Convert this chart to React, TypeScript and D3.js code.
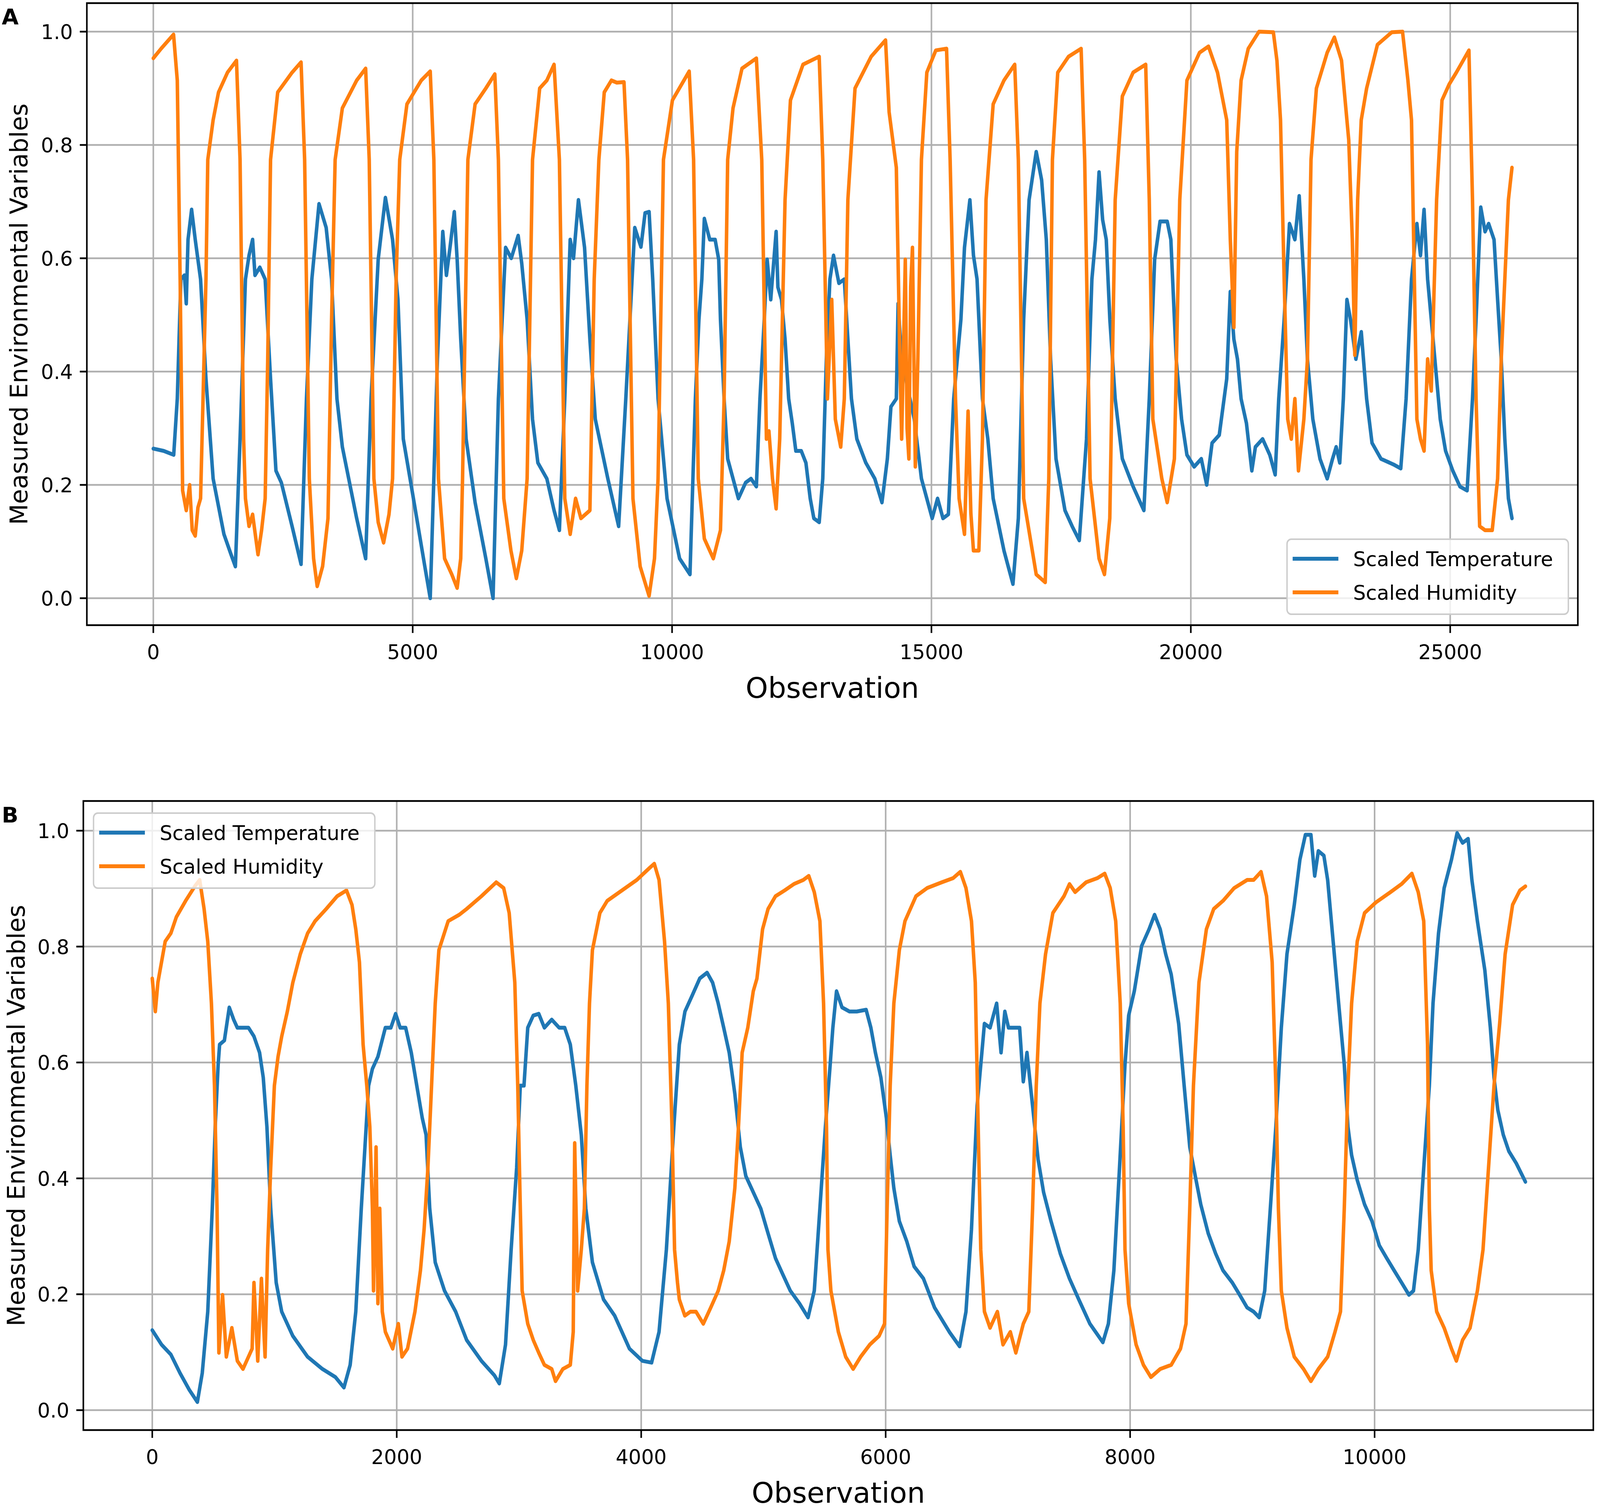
import { useEffect, useState } from 'react';
import * as d3 from 'd3';

type Pt = [number, number];

// ---- panel A data: [observation, scaled value] ----
const tempA: Pt[] = [
  [0,0.264],[200,0.26],[393,0.253],[462,0.352],[531,0.563],[600,0.57],[635,0.52],[669,0.633],[738,0.686],[808,0.633],[911,0.563],[1015,0.387],[1153,0.211],[1361,0.113],[1499,0.077],[1582,0.056],
  [1672,0.281],[1776,0.563],[1845,0.605],[1914,0.633],[1960,0.57],[2053,0.584],[2156,0.563],[2260,0.387],[2364,0.225],[2468,0.204],[2675,0.127],[2848,0.06],
  [2952,0.352],[3056,0.563],[3194,0.696],[3332,0.654],[3436,0.563],[3540,0.352],[3644,0.267],[3920,0.141],[4093,0.07],
  [4197,0.352],[4335,0.598],[4474,0.707],[4612,0.633],[4716,0.527],[4819,0.281],[5027,0.169],[5234,0.056],[5338,0.0],
  [5477,0.422],[5580,0.647],[5650,0.57],[5719,0.619],[5802,0.682],[5857,0.598],[5926,0.457],[6030,0.281],[6203,0.169],[6410,0.07],[6549,0.0],
  [6652,0.352],[6791,0.619],[6900,0.6],[7033,0.64],[7102,0.591],[7206,0.492],[7310,0.316],[7413,0.239],[7586,0.211],[7725,0.155],[7828,0.12],
  [7932,0.352],[8036,0.633],[8100,0.6],[8195,0.703],[8313,0.619],[8416,0.457],[8520,0.316],[8762,0.211],[8970,0.127],
  [9108,0.352],[9281,0.654],[9400,0.62],[9480,0.68],[9557,0.682],[9627,0.563],[9730,0.352],[9903,0.176],[10145,0.07],[10345,0.042],
  [10449,0.352],[10518,0.492],[10574,0.563],[10622,0.67],[10726,0.633],[10830,0.633],[10899,0.598],[10933,0.492],[11003,0.352],[11072,0.246],[11175,0.211],[11279,0.176],[11418,0.204],[11521,0.211],[11625,0.197],
  [11694,0.352],[11777,0.492],[11833,0.598],[11902,0.527],[12006,0.647],[12040,0.549],[12109,0.527],[12178,0.457],[12248,0.352],[12317,0.309],[12386,0.26],[12490,0.26],[12580,0.239],[12663,0.176],[12733,0.141],[12836,0.134],
  [12905,0.211],[12974,0.422],[13043,0.563],[13112,0.605],[13216,0.556],[13320,0.563],[13389,0.457],[13458,0.352],[13562,0.281],[13735,0.239],[13908,0.211],[14046,0.169],
  [14150,0.246],[14219,0.338],[14323,0.352],[14357,0.52],[14426,0.422],[14669,0.316],[14807,0.211],[15014,0.141],[15118,0.176],[15222,0.141],[15326,0.148],
  [15429,0.352],[15568,0.492],[15637,0.619],[15741,0.703],[15810,0.605],[15879,0.563],[15983,0.352],[16087,0.281],[16190,0.176],[16398,0.084],[16571,0.025],
  [16675,0.141],[16778,0.492],[16882,0.703],[17020,0.788],[17124,0.738],[17214,0.633],[17297,0.422],[17401,0.246],[17574,0.155],[17712,0.127],[17850,0.102],
  [17989,0.281],[18093,0.563],[18162,0.633],[18231,0.752],[18300,0.668],[18370,0.633],[18439,0.492],[18542,0.352],[18680,0.246],[18888,0.197],[19026,0.169],[19095,0.155],
  [19199,0.352],[19303,0.598],[19407,0.665],[19545,0.665],[19615,0.633],[19718,0.422],[19822,0.316],[19925,0.253],[20064,0.232],[20202,0.246],[20306,0.2],[20410,0.274],[20548,0.288],
  [20692,0.387],[20761,0.541],[20830,0.457],[20899,0.422],[20969,0.352],[21072,0.309],[21176,0.225],[21245,0.267],[21384,0.281],[21522,0.253],[21626,0.218],
  [21695,0.352],[21799,0.492],[21902,0.661],[22006,0.633],[22089,0.71],[22179,0.563],[22248,0.422],[22352,0.316],[22490,0.246],[22629,0.211],[22732,0.246],[22802,0.267],[22871,0.239],
  [22940,0.352],[23009,0.527],[23078,0.492],[23182,0.422],[23286,0.47],[23389,0.352],[23493,0.274],[23666,0.246],[23908,0.236],[24047,0.229],
  [24150,0.352],[24254,0.563],[24358,0.661],[24427,0.605],[24496,0.686],[24565,0.563],[24635,0.492],[24704,0.422],[24808,0.316],[24911,0.26],[25050,0.225],[25188,0.197],[25326,0.19],
  [25430,0.352],[25499,0.492],[25589,0.69],[25672,0.647],[25741,0.661],[25845,0.633],[25914,0.527],[25984,0.422],[26053,0.281],[26122,0.176],[26191,0.141],
];

const humA: Pt[] = [
  [0,0.953],[150,0.97],[390,0.995],[462,0.914],[517,0.562],[565,0.19],[635,0.155],[700,0.2],[750,0.12],[808,0.11],[860,0.16],[911,0.176],
  [1015,0.563],[1050,0.774],[1153,0.844],[1257,0.893],[1430,0.928],[1603,0.949],[1672,0.774],[1741,0.281],[1776,0.176],[1845,0.127],[1914,0.148],[2018,0.077],[2087,0.12],[2156,0.176],
  [2205,0.42],[2260,0.774],[2398,0.893],[2675,0.928],[2848,0.946],[2917,0.774],[3007,0.211],[3090,0.07],[3159,0.021],[3263,0.056],[3367,0.141],
  [3436,0.49],[3505,0.774],[3644,0.865],[3920,0.914],[4093,0.935],[4162,0.774],[4252,0.211],[4335,0.134],[4439,0.098],[4543,0.148],[4612,0.211],
  [4681,0.563],[4750,0.774],[4889,0.872],[5165,0.914],[5338,0.93],[5408,0.774],[5497,0.211],[5615,0.07],[5753,0.042],[5857,0.018],[5926,0.07],[5961,0.211],
  [6064,0.774],[6203,0.872],[6410,0.9],[6583,0.925],[6652,0.774],[6756,0.176],[6894,0.084],[6998,0.035],[7102,0.084],[7206,0.211],
  [7310,0.774],[7448,0.9],[7586,0.914],[7725,0.942],[7828,0.774],[7932,0.176],[8036,0.113],[8140,0.176],[8243,0.141],[8416,0.155],
  [8499,0.563],[8589,0.774],[8693,0.893],[8831,0.914],[8935,0.91],[9073,0.911],[9142,0.774],[9246,0.176],[9385,0.056],[9557,0.004],[9661,0.07],[9730,0.211],
  [9834,0.774],[10007,0.879],[10330,0.93],[10415,0.774],[10505,0.211],[10622,0.105],[10795,0.07],[10933,0.12],[11003,0.352],
  [11072,0.774],[11175,0.865],[11348,0.935],[11625,0.953],[11729,0.774],[11819,0.281],[11867,0.295],[11936,0.211],[12006,0.158],[12075,0.281],
  [12178,0.703],[12282,0.879],[12524,0.942],[12836,0.956],[12905,0.774],[12995,0.352],[13078,0.527],[13147,0.316],[13251,0.267],[13320,0.352],
  [13389,0.703],[13527,0.9],[13838,0.956],[14115,0.985],[14184,0.858],[14323,0.76],[14392,0.422],[14426,0.281],[14496,0.598],[14530,0.3],[14565,0.246],[14600,0.55],[14634,0.619],[14689,0.232],[14738,0.422],
  [14807,0.774],[14911,0.928],[15084,0.967],[15291,0.97],[15360,0.774],[15464,0.352],[15533,0.176],[15637,0.113],[15706,0.33],[15760,0.15],[15810,0.084],[15914,0.084],[15983,0.281],
  [16052,0.703],[16190,0.872],[16398,0.914],[16605,0.942],[16675,0.774],[16778,0.176],[17020,0.042],[17193,0.028],[17262,0.211],
  [17332,0.774],[17435,0.928],[17643,0.956],[17885,0.97],[17954,0.774],[18058,0.211],[18231,0.07],[18335,0.042],[18438,0.141],
  [18542,0.703],[18680,0.886],[18888,0.928],[19130,0.942],[19199,0.703],[19268,0.316],[19441,0.211],[19545,0.169],[19683,0.246],
  [19787,0.703],[19925,0.914],[20168,0.963],[20340,0.974],[20514,0.928],[20692,0.844],[20761,0.633],[20830,0.478],[20885,0.788],
  [20969,0.914],[21107,0.97],[21314,1.0],[21591,0.999],[21660,0.949],[21729,0.844],[21799,0.563],[21868,0.316],[21937,0.281],[22006,0.352],[22075,0.225],[22179,0.316],[22248,0.422],
  [22317,0.774],[22421,0.9],[22629,0.963],[22767,0.99],[22905,0.949],[23009,0.844],[23044,0.809],[23113,0.633],[23161,0.429],[23216,0.703],[23285,0.844],
  [23389,0.9],[23597,0.977],[23874,0.999],[24081,1.0],[24185,0.914],[24254,0.844],[24323,0.492],[24358,0.316],[24427,0.281],[24496,0.26],[24565,0.422],[24635,0.366],
  [24738,0.703],[24842,0.879],[24980,0.907],[25119,0.928],[25361,0.967],[25430,0.703],[25499,0.352],[25568,0.127],[25672,0.12],[25810,0.12],[25914,0.211],
  [25984,0.422],[26053,0.563],[26122,0.703],[26191,0.76],
];

// ---- panel B data ----
const tempB: Pt[] = [
  [0,0.138],[76,0.113],[152,0.096],[227,0.064],[303,0.035],[369,0.014],[409,0.064],[454,0.17],[491,0.348],[515,0.489],[539,0.596],[551,0.631],[590,0.638],[630,0.695],[666,0.674],[696,0.66],[742,0.66],[787,0.66],[832,0.645],[878,0.617],[908,0.574],[938,0.489],[969,0.348],[1014,0.22],[1059,0.17],[1150,0.128],[1271,0.092],[1392,0.071],[1498,0.057],[1568,0.039],
  [1619,0.078],[1665,0.17],[1710,0.348],[1740,0.454],[1770,0.56],[1801,0.589],[1846,0.61],[1907,0.66],[1952,0.66],[1991,0.684],[2028,0.66],[2073,0.66],[2119,0.617],[2164,0.56],[2209,0.504],[2240,0.475],[2270,0.348],[2315,0.255],[2391,0.206],[2482,0.17],[2572,0.121],[2693,0.085],[2799,0.06],[2839,0.046],
  [2890,0.113],[2936,0.277],[2981,0.418],[3011,0.56],[3041,0.56],[3072,0.66],[3117,0.681],[3162,0.684],[3208,0.66],[3268,0.674],[3329,0.66],[3374,0.66],[3420,0.631],[3465,0.56],[3510,0.475],[3547,0.348],[3601,0.255],[3692,0.191],[3783,0.163],[3904,0.106],[4010,0.085],[4085,0.082],
  [4146,0.135],[4206,0.277],[4267,0.489],[4312,0.631],[4358,0.688],[4418,0.716],[4479,0.745],[4539,0.755],[4584,0.738],[4630,0.702],[4675,0.66],[4720,0.617],[4766,0.546],[4811,0.454],[4856,0.404],[4917,0.376],[4978,0.348],[5038,0.305],[5099,0.262],[5159,0.234],[5220,0.206],[5295,0.184],[5365,0.16],
  [5416,0.206],[5462,0.348],[5507,0.489],[5546,0.596],[5568,0.66],[5598,0.723],[5643,0.695],[5704,0.688],[5764,0.688],[5840,0.691],[5879,0.66],[5916,0.617],[5961,0.574],[6006,0.504],[6037,0.44],[6067,0.383],[6112,0.326],[6173,0.291],[6233,0.248],[6309,0.227],[6400,0.177],[6521,0.135],[6605,0.11],
  [6657,0.17],[6702,0.312],[6748,0.525],[6793,0.631],[6808,0.667],[6854,0.66],[6908,0.702],[6944,0.617],[6975,0.688],[7005,0.66],[7050,0.66],[7096,0.66],[7126,0.567],[7156,0.617],[7202,0.525],[7247,0.433],[7292,0.376],[7353,0.326],[7429,0.27],[7504,0.227],[7580,0.191],[7671,0.149],[7777,0.117],
  [7822,0.149],[7867,0.241],[7913,0.418],[7958,0.596],[7988,0.681],[8034,0.723],[8094,0.801],[8155,0.83],[8200,0.855],[8246,0.83],[8291,0.787],[8336,0.752],[8397,0.667],[8442,0.56],[8488,0.454],[8533,0.404],[8578,0.355],[8639,0.305],[8700,0.27],[8760,0.241],[8836,0.22],[8896,0.199],[8957,0.177],[9010,0.17],[9056,0.16],
  [9101,0.206],[9147,0.348],[9192,0.489],[9237,0.66],[9283,0.787],[9343,0.872],[9389,0.95],[9434,0.993],[9479,0.993],[9510,0.922],[9540,0.965],[9585,0.957],[9616,0.915],[9661,0.809],[9706,0.702],[9752,0.596],[9782,0.489],[9812,0.44],[9858,0.397],[9918,0.355],[9979,0.326],[10039,0.284],[10100,0.262],[10160,0.241],[10221,0.22],[10281,0.199],
  [10318,0.206],[10357,0.277],[10402,0.418],[10448,0.56],[10478,0.702],[10523,0.823],[10569,0.901],[10629,0.95],[10675,0.996],[10720,0.979],[10765,0.986],[10796,0.915],[10841,0.844],[10902,0.759],[10947,0.66],[10977,0.574],[11008,0.518],[11053,0.475],[11098,0.447],[11159,0.426],[11234,0.394],
];

const humB: Pt[] = [
  [0,0.745],[25,0.688],[46,0.738],[106,0.809],[152,0.823],[197,0.851],[273,0.879],[348,0.904],[388,0.915],[424,0.865],[454,0.809],[484,0.702],[509,0.56],[530,0.348],[545,0.099],[575,0.199],[606,0.092],[651,0.142],[696,0.085],[742,0.071],[817,0.106],[832,0.22],[863,0.085],[893,0.227],[923,0.092],
  [944,0.277],[969,0.418],[999,0.56],[1029,0.61],[1059,0.645],[1105,0.688],[1150,0.738],[1211,0.787],[1271,0.823],[1332,0.844],[1423,0.865],[1513,0.887],[1589,0.897],[1634,0.872],[1665,0.83],[1695,0.773],[1725,0.631],[1755,0.56],[1780,0.489],[1801,0.348],[1810,0.206],[1831,0.454],[1846,0.184],[1861,0.348],[1882,0.17],[1907,0.135],[1967,0.106],[2013,0.149],[2043,0.092],[2088,0.106],[2149,0.17],[2194,0.241],[2224,0.312],
  [2255,0.418],[2285,0.56],[2315,0.702],[2345,0.794],[2421,0.844],[2512,0.855],[2572,0.865],[2693,0.887],[2814,0.911],[2875,0.901],[2920,0.858],[2966,0.738],[2990,0.56],[3011,0.348],[3026,0.206],[3072,0.149],[3117,0.121],[3162,0.099],[3208,0.078],[3268,0.071],[3299,0.05],[3359,0.071],[3420,0.078],[3444,0.135],[3456,0.461],[3480,0.206],[3510,0.277],
  [3535,0.348],[3556,0.56],[3577,0.702],[3601,0.794],[3662,0.858],[3722,0.879],[3843,0.897],[3964,0.915],[4070,0.936],[4107,0.943],[4146,0.915],[4191,0.809],[4222,0.702],[4252,0.489],[4273,0.277],[4297,0.22],[4312,0.191],[4357,0.163],[4403,0.17],[4448,0.17],[4508,0.149],[4569,0.177],[4630,0.206],[4675,0.241],[4720,0.291],[4766,0.383],
  [4796,0.489],[4826,0.617],[4872,0.66],[4917,0.723],[4947,0.745],[4993,0.83],[5038,0.865],[5099,0.887],[5174,0.897],[5250,0.908],[5326,0.915],[5371,0.922],[5416,0.894],[5462,0.844],[5492,0.702],[5516,0.489],[5528,0.277],[5552,0.206],[5613,0.135],[5673,0.092],[5734,0.071],[5795,0.092],[5870,0.113],[5946,0.128],[5991,0.149],
  [6012,0.348],[6037,0.56],[6067,0.702],[6112,0.794],[6158,0.844],[6248,0.887],[6339,0.901],[6460,0.911],[6551,0.918],[6611,0.929],[6657,0.901],[6702,0.844],[6733,0.738],[6757,0.489],[6778,0.277],[6808,0.17],[6854,0.142],[6914,0.17],[6960,0.113],[7020,0.135],[7065,0.099],[7126,0.149],[7171,0.17],
  [7202,0.348],[7232,0.56],[7262,0.702],[7308,0.787],[7368,0.858],[7459,0.887],[7504,0.908],[7550,0.894],[7640,0.911],[7731,0.918],[7792,0.926],[7837,0.901],[7882,0.844],[7919,0.702],[7943,0.489],[7958,0.277],[7988,0.184],[8049,0.113],[8109,0.078],[8170,0.057],[8246,0.071],[8336,0.078],[8412,0.106],[8457,0.149],
  [8488,0.348],[8518,0.56],[8563,0.738],[8624,0.83],[8684,0.865],[8760,0.879],[8851,0.901],[8957,0.915],[9010,0.915],[9071,0.929],[9116,0.887],[9162,0.773],[9192,0.56],[9213,0.348],[9237,0.206],[9283,0.142],[9343,0.092],[9419,0.071],[9479,0.05],[9540,0.071],[9616,0.092],[9676,0.135],[9721,0.17],
  [9752,0.348],[9782,0.56],[9812,0.702],[9858,0.809],[9918,0.858],[10009,0.876],[10130,0.894],[10221,0.908],[10305,0.926],[10357,0.894],[10402,0.844],[10433,0.631],[10448,0.348],[10463,0.241],[10508,0.17],[10569,0.142],[10629,0.106],[10669,0.085],[10720,0.121],[10781,0.142],[10841,0.206],[10887,0.277],
  [10932,0.418],[10977,0.56],[11023,0.667],[11068,0.787],[11129,0.872],[11189,0.897],[11234,0.904],
];

const yTicks = [0, 0.2, 0.4, 0.6, 0.8, 1.0];
const xTicksA = [0, 5000, 10000, 15000, 20000, 25000];
const xTicksB = [0, 2000, 4000, 6000, 8000, 10000];
const seriesNames = ['Scaled Temperature', 'Scaled Humidity'];
const seriesColors = ['#1f77b4', '#ff7f0e'];

const W = 4550;
const H = 3862;
const FONT = 'DejaVu Sans, sans-serif';
const LW = 10;

interface PanelProps {
  letter: string;
  box: { left: number; right: number; top: number; bottom: number };
  x: d3.ScaleLinear<number, number>;
  y: d3.ScaleLinear<number, number>;
  xTicks: number[];
  temp: Pt[];
  hum: Pt[];
  legend: { x: number; y: number };
  ylabelX: number;
  letterY: number;
  r: number; // vertical counter-scale so text keeps its shape when the svg is stretched
}

const Panel = ({ letter, box, x, y, xTicks, temp, hum, legend, ylabelX, letterY, r }: PanelProps) => {
  const line = d3
    .line<Pt>()
    .x((d) => x(d[0]))
    .y((d) => y(d[1]));
  const cy = (box.top + box.bottom) / 2;
  const cx = (box.left + box.right) / 2;
  const lgW = 800;
  const lgH = 192;
  // text anchored at (tx, ty) on its baseline
  const at = (tx: number, ty: number) => `translate(${tx},${ty}) scale(1,${r})`;

  return (
    <g>
      <text transform={at(5, letterY)} fontFamily={FONT} fontWeight="bold" fontSize={62}>
        {letter}
      </text>
      {/* grid */}
      {xTicks.map((t) => (
        <line key={'gx' + t} x1={x(t)} x2={x(t)} y1={box.top} y2={box.bottom} stroke="#b0b0b0" strokeWidth={4.5} />
      ))}
      {yTicks.map((t) => (
        <line key={'gy' + t} x1={box.left} x2={box.right} y1={y(t)} y2={y(t)} stroke="#b0b0b0" strokeWidth={4.5} />
      ))}
      {/* series */}
      <path d={line(temp) || ''} fill="none" stroke={seriesColors[0]} strokeWidth={LW} strokeLinejoin="round" strokeLinecap="round" />
      <path d={line(hum) || ''} fill="none" stroke={seriesColors[1]} strokeWidth={LW} strokeLinejoin="round" strokeLinecap="round" />
      {/* spines */}
      <rect x={box.left} y={box.top} width={box.right - box.left} height={box.bottom - box.top} fill="none" stroke="#000" strokeWidth={4.5} />
      {/* ticks */}
      {xTicks.map((t) => (
        <g key={'tx' + t}>
          <line x1={x(t)} x2={x(t)} y1={box.bottom} y2={box.bottom + 20} stroke="#000" strokeWidth={4.5} />
          <text transform={at(x(t), box.bottom + 87)} textAnchor="middle" fontFamily={FONT} fontSize={57}>
            {t}
          </text>
        </g>
      ))}
      {yTicks.map((t) => (
        <g key={'ty' + t}>
          <line x1={box.left - 20} x2={box.left} y1={y(t)} y2={y(t)} stroke="#000" strokeWidth={4.5} />
          <text transform={at(box.left - 40, y(t) + 21 * r)} textAnchor="end" fontFamily={FONT} fontSize={57}>
            {t.toFixed(1)}
          </text>
        </g>
      ))}
      <text transform={at(cx, box.bottom + 186)} textAnchor="middle" fontFamily={FONT} fontSize={81}>
        Observation
      </text>
      <text transform={`${at(ylabelX, cy)} rotate(-90)`} textAnchor="middle" fontFamily={FONT} fontSize={69}>
        Measured Environmental Variables
      </text>
      {/* legend */}
      <g transform={`translate(${legend.x},${legend.y})`}>
        <rect x={0} y={0} width={lgW} height={lgH} rx={12} fill="#fff" fillOpacity={0.8} stroke="#cccccc" strokeWidth={4} />
        {seriesNames.map((name, i) => (
          <g key={name} transform={`translate(0,${50 + i * 86})`}>
            <line x1={16} x2={146} y1={0} y2={0} stroke={seriesColors[i]} strokeWidth={LW} />
            <text transform={at(188, 21 * r)} fontFamily={FONT} fontSize={57}>
              {name}
            </text>
          </g>
        ))}
      </g>
    </g>
  );
};

export default function App() {
  const [size, setSize] = useState({ w: window.innerWidth || W, h: window.innerHeight || H });

  useEffect(() => {
    const onResize = () => setSize({ w: window.innerWidth || W, h: window.innerHeight || H });
    window.addEventListener('resize', onResize);
    return () => window.removeEventListener('resize', onResize);
  }, []);

  // svg is stretched to the viewport; text gets a counter-scale so glyphs stay undistorted
  const sx = size.w / W;
  const sy = size.h / H;
  const r = sx / sy;

  const boxA = { left: 247, right: 4487, top: 8, bottom: 1600 };
  const xA = d3.scaleLinear().domain([0, 25000]).range([436, 4124]);
  const yA = d3.scaleLinear().domain([0, 1]).range([1531, 81]);

  const boxB = { left: 237, right: 4531, top: 2050, bottom: 3660 };
  const xB = d3.scaleLinear().domain([0, 10000]).range([433, 3909]);
  const yB = d3.scaleLinear().domain([0, 1]).range([3609, 2126]);

  return (
    <div style={{ position: 'fixed', left: 0, top: 0, width: '100vw', height: '100vh', background: '#fff', overflow: 'hidden' }}>
      <svg viewBox={`0 0 ${W} ${H}`} width="100%" height="100%" preserveAspectRatio="none" style={{ display: 'block' }}>
        <rect width={W} height={H} fill="#fff" />
        <Panel letter="A" box={boxA} x={xA} y={yA} xTicks={xTicksA} temp={tempA} hum={humA} legend={{ x: 3660, y: 1380 }} ylabelX={78} letterY={62} r={r} />
        <Panel letter="B" box={boxB} x={xB} y={yB} xTicks={xTicksB} temp={tempB} hum={humB} legend={{ x: 266, y: 2081 }} ylabelX={70} letterY={2105} r={r} />
      </svg>
    </div>
  );
}
